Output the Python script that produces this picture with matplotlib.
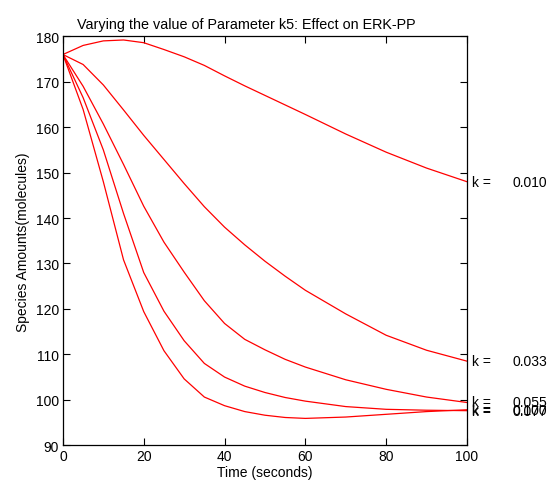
"""ERK-PP response to varying k5 - redrawn from a MATLAB-style figure."""
import matplotlib; matplotlib.use("Agg")
import matplotlib.pyplot as plt

plt.rcParams['font.family'] = ['Liberation Sans', 'DejaVu Sans']

# time points (s) and ERK-PP amounts, one list per k5 value
t = [0, 5, 10, 15, 20, 25, 30, 35, 40, 45, 50, 55, 60, 70, 80, 90, 100]
k_vals = ["0.010", "0.033", "0.055", "0.077", "0.100"]
erk_k010 = [176, 178.0, 179.0, 179.2, 178.6, 177.1, 175.5, 173.6, 171.3, 169.1, 167.0, 164.9, 162.8, 158.5, 154.5, 151.0, 148.0]
erk_k033 = [176, 173.8, 169.3, 163.8, 158.2, 152.9, 147.6, 142.5, 138.0, 134.1, 130.5, 127.2, 124.1, 118.9, 114.2, 110.9, 108.5]
erk_k055 = [176, 169.0, 160.7, 151.8, 142.6, 134.7, 128.1, 121.8, 116.8, 113.3, 111.0, 108.9, 107.2, 104.4, 102.3, 100.6, 99.4]
erk_k077 = [176, 166.5, 155.0, 141.0, 128.0, 119.5, 113.0, 108.0, 105.0, 103.0, 101.6, 100.5, 99.7, 98.5, 97.9, 97.7, 97.6]
erk_k100 = [176, 163.9, 148.0, 130.8, 119.4, 110.8, 104.6, 100.6, 98.7, 97.4, 96.6, 96.1, 95.9, 96.2, 96.8, 97.4, 97.8]
series = [erk_k010, erk_k033, erk_k055, erk_k077, erk_k100]

fig = plt.figure(figsize=(5.52, 4.85), dpi=100)
ax = fig.add_axes([0.114, 0.080, 0.732, 0.843])

for y, k in zip(series, k_vals):
    ax.plot(t, y, color="#ff0000", lw=0.9)
    # end-of-line labels, overlapping where the curves meet (as in the original)
    ax.text(101.2, y[-1], "k =", fontsize=10, va="center", ha="left", clip_on=False)
    ax.text(111.3, y[-1], k, fontsize=10, va="center", ha="left", clip_on=False)

ax.set_xlim(0, 100)
ax.set_ylim(90, 180)
ax.set_xticks(range(0, 101, 20))
ax.set_yticks(range(90, 181, 10))
ax.tick_params(direction="in", top=True, right=True, length=5, width=0.8, labelsize=10, pad=3)
for s in ax.spines.values():
    s.set_linewidth(0.9)
ax.set_title("Varying the value of Parameter k5: Effect on ERK-PP", fontsize=10.4, pad=6, x=0.455)
ax.set_xlabel("Time (seconds)", fontsize=10, labelpad=1)
ax.set_ylabel("Species Amounts(molecules)", fontsize=10, labelpad=4)

fig.savefig("out.png", dpi=100)
